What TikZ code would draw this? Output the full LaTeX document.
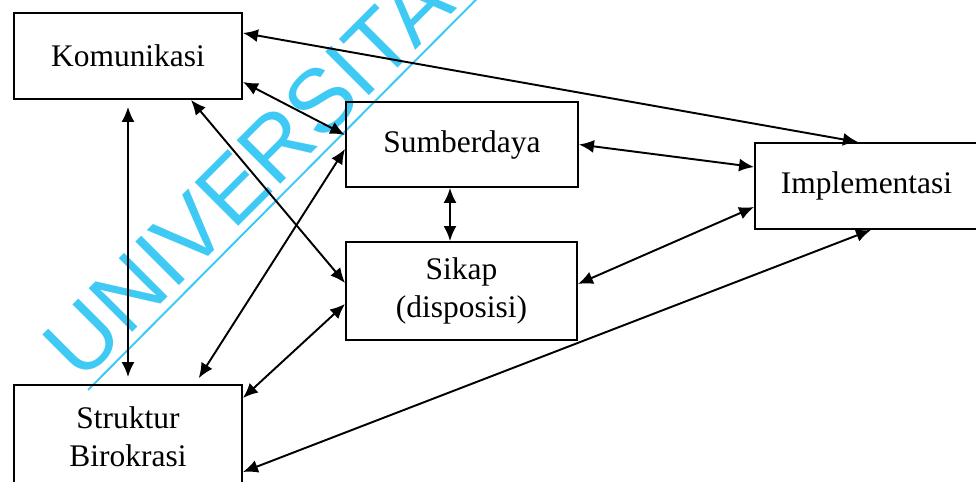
\documentclass[tikz,border=0pt]{standalone}
\usepackage{fontspec}
\setmainfont{Liberation Serif}
\newfontfamily\wmfont{Liberation Sans}
\usepackage{tikz}
\usepackage{xcolor}
\usetikzlibrary{arrows.meta,positioning,calc}
\definecolor{wmcyan}{HTML}{3FC9F5}
\tikzset{
  factorBox/.style={draw, line width=1.1pt, align=center, inner sep=0pt,
    font=\fontsize{17.9}{21.6}\selectfont},
  linkArrow/.style={{Latex[length=0.3cm,width=0.26cm]}-{Latex[length=0.3cm,width=0.26cm]}, line width=1.1pt},
  wmText/.style={rotate=45, anchor=base west, inner sep=0pt, text=wmcyan,
    font=\wmfont\fontsize{51}{51}\selectfont}
}

\begin{document}
\begin{tikzpicture}[x=0.02cm,y=0.02cm]
  \useasboundingbox (0,0) rectangle (976,482);
  % watermark
  \node[wmText] (wm) at (81.6,98.4) {UNIVERSITAS};
  \coordinate (wmA) at (88,92);
  \coordinate (wmB) at (583,590);
  \draw[wmcyan, line width=0.04cm] (wmA) -- (wmB);
  % boxes
  \node[factorBox, minimum width=4.56cm, minimum height=1.72cm] (kom) at (128,426) {Komunikasi};
  \node[factorBox, minimum width=4.64cm, minimum height=1.70cm] (sum) at (462,337.5) {Sumberdaya};
  \node[factorBox, minimum width=4.62cm, minimum height=1.96cm] (sik) at (461.5,191) {Sikap\\(disposisi)};
  \node[factorBox, minimum width=4.46cm, minimum height=1.72cm] (imp) at (866.5,296) {Implementasi};
  \node[factorBox, minimum width=4.56cm, minimum height=2.06cm] (str) at (128,45.5) {Struktur\\Birokrasi};
  % links
  \draw[linkArrow] ([yshift=0.46cm]kom.east) -- ([xshift=-0.17cm]imp.north);
  \draw[linkArrow] ([yshift=-0.52cm]kom.east) -- ([yshift=0.19cm]sum.west);
  \draw[linkArrow, shorten <=0.14cm, shorten >=0.14cm] (kom.south) -- (str.north);
  \draw[linkArrow] ([xshift=1.26cm]kom.south) -- ([yshift=0.16cm]sik.west);
  \draw[linkArrow, shorten >=0.14cm] ([yshift=-0.09cm]sum.west) -- ([xshift=1.34cm]str.north);
  \draw[linkArrow] ([xshift=-0.24cm]sum.south) -- ([xshift=-0.23cm]sik.north);
  \draw[linkArrow] (sum.east) -- ([yshift=0.38cm]imp.west);
  \draw[linkArrow] ([yshift=0.14cm]sik.east) -- ([yshift=-0.42cm]imp.west);
  \draw[linkArrow] ([yshift=-0.26cm]sik.west) -- ([yshift=0.77cm]str.east);
  \draw[linkArrow] ([yshift=-0.71cm]str.east) -- ([xshift=0.09cm]imp.south);
\end{tikzpicture}
\end{document}
